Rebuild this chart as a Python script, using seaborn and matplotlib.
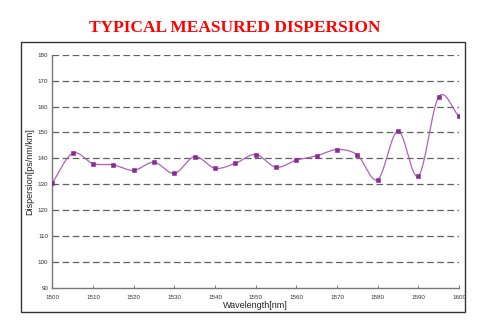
import numpy as np
import pandas as pd
import seaborn as sns
import matplotlib
matplotlib.use("Agg")
import matplotlib.pyplot as plt
from matplotlib.patches import Rectangle

# Measured chromatic dispersion versus wavelength
wavelength_nm = [1500, 1505, 1510, 1515, 1520, 1525, 1530, 1535, 1540, 1545,
                 1550, 1555, 1560, 1565, 1570, 1575, 1580, 1585, 1590, 1595, 1600]
dispersion = [130.5, 142.0, 138.0, 137.5, 135.4, 138.5, 134.2, 140.7, 136.2, 138.1,
              141.5, 136.6, 139.3, 141.0, 143.4, 141.3, 131.8, 150.6, 133.2, 163.7, 156.2]
x_ticks = list(range(1500, 1601, 10))
y_ticks = list(range(90, 181, 10))

df = pd.DataFrame({"Wavelength[nm]": wavelength_nm, "Dispersion[ps/nm/km]": dispersion})


def smooth_curve(x, y, per_seg=40):
    """Catmull-Rom style smoothed line through the measured points."""
    x = np.asarray(x, float)
    y = np.asarray(y, float)
    px = np.concatenate([[2 * x[0] - x[1]], x, [2 * x[-1] - x[-2]]])
    py = np.concatenate([[2 * y[0] - y[1]], y, [2 * y[-1] - y[-2]]])
    xs, ys = [], []
    t = np.linspace(0, 1, per_seg, endpoint=False)
    for i in range(1, len(px) - 2):
        for arr, out in ((px, xs), (py, ys)):
            p0, p1, p2, p3 = arr[i - 1], arr[i], arr[i + 1], arr[i + 2]
            m1 = (p2 - p0) / 2
            m2 = (p3 - p1) / 2
            h00 = 2 * t**3 - 3 * t**2 + 1
            h10 = t**3 - 2 * t**2 + t
            h01 = -2 * t**3 + 3 * t**2
            h11 = t**3 - t**2
            out.extend(h00 * p1 + h10 * m1 + h01 * p2 + h11 * m2)
    xs.append(x[-1])
    ys.append(y[-1])
    return np.array(xs), np.array(ys)


sns.set_theme(style="white")
plt.rcParams["font.family"] = ["Liberation Sans", "DejaVu Sans"]

fig = plt.figure(figsize=(4.81, 3.25), dpi=100)
ax = fig.add_axes([52.3 / 481, 1 - 288 / 325, (459 - 52.3) / 481, (288 - 54.7) / 325])

# frame around the chart area
fig.patches.append(Rectangle((21 / 481, 1 - 312 / 325), (465 - 21) / 481, (312 - 41.7) / 325,
                             transform=fig.transFigure, fill=False,
                             edgecolor="#333333", linewidth=1.0, zorder=0))

line_color = "#ad62b8"
xs, ys = smooth_curve(wavelength_nm, dispersion)
curve = pd.DataFrame({"x": xs, "y": ys})
sns.lineplot(data=curve, x="x", y="y", ax=ax, color=line_color, linewidth=0.9, zorder=3)
sns.scatterplot(data=df, x="Wavelength[nm]", y="Dispersion[ps/nm/km]", ax=ax,
                marker="s", s=5, color="#8a2a95", edgecolor="#8a2a95", linewidth=0.4, zorder=4)

ax.set_xlim(1500, 1600)
ax.set_ylim(90, 180)
ax.set_xticks(x_ticks)
ax.set_yticks(y_ticks)
ax.set_xticklabels([str(t) for t in x_ticks], fontsize=4.5, color="#333333")
ax.set_yticklabels([str(t) for t in y_ticks], fontsize=4.5, color="#333333")
ax.tick_params(axis="x", direction="in", length=2, width=0.6, color="#666666", pad=5, bottom=True)
ax.tick_params(axis="y", length=0, pad=3, left=False)

for v in y_ticks[1:]:
    ax.axhline(v, color="#606060", linestyle=(0, (5.3, 2.8)), linewidth=0.9, zorder=1)

for side in ["top", "right"]:
    ax.spines[side].set_visible(False)
for side in ["left", "bottom"]:
    ax.spines[side].set_color("#777777")
    ax.spines[side].set_linewidth(1.0)

ax.set_xlabel("Wavelength[nm]", fontsize=6.5, color="#222222")
ax.set_ylabel("Dispersion[ps/nm/km]", fontsize=6.5, color="#222222")
ax.xaxis.set_label_coords(0.5, -(301 - 288) / 233.3)
ax.yaxis.set_label_coords(-(52.3 - 34) / 406.7, 0.5)

fig.text(235 / 481, 1 - 28 / 325, "TYPICAL MEASURED DISPERSION", color="#ff0000",
         fontsize=12.5, fontweight="bold", family=["Liberation Serif", "DejaVu Serif"],
         ha="center", va="center")

fig.savefig("out.png", dpi=100)
